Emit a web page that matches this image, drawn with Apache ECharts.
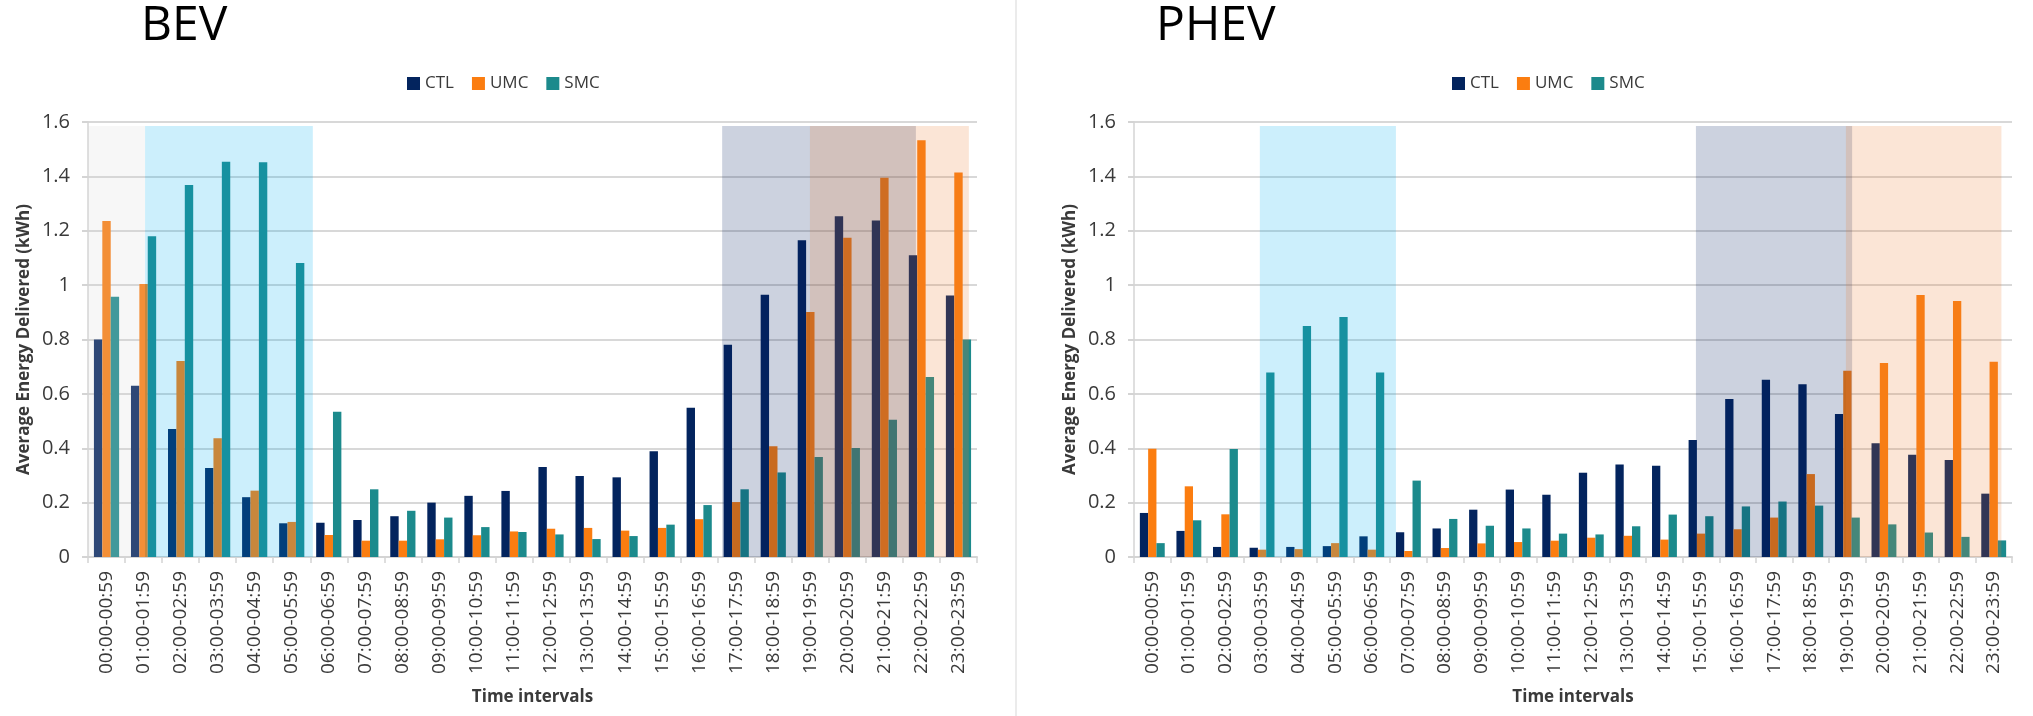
<!DOCTYPE html>
<html>
<head>
<meta charset="utf-8">
<script src="https://cdn.jsdelivr.net/npm/echarts@6/dist/echarts.min.js"></script>
<style>
  html, body { margin: 0; padding: 0; background: #fff; }
  #chart { width: 2033px; height: 716px; }
</style>
</head>
<body>
<div id="chart"></div>
<script>
const categories = ['00:00-00:59','01:00-01:59','02:00-02:59','03:00-03:59','04:00-04:59','05:00-05:59',
  '06:00-06:59','07:00-07:59','08:00-08:59','09:00-09:59','10:00-10:59','11:00-11:59',
  '12:00-12:59','13:00-13:59','14:00-14:59','15:00-15:59','16:00-16:59','17:00-17:59',
  '18:00-18:59','19:00-19:59','20:00-20:59','21:00-21:59','22:00-22:59','23:00-23:59'];
const seriesNames = ['CTL', 'UMC', 'SMC'];
const yTickLabels = ['0', '0.2', '0.4', '0.6', '0.8', '1', '1.2', '1.4', '1.6'];

// BEV values (kWh)
const bevCTL = [0.80, 0.63, 0.471, 0.327, 0.22, 0.124, 0.126, 0.136, 0.15, 0.20, 0.225, 0.243,
  0.331, 0.298, 0.293, 0.389, 0.549, 0.781, 0.965, 1.165, 1.253, 1.238, 1.11, 0.962];
const bevUMC = [1.236, 1.004, 0.721, 0.437, 0.244, 0.129, 0.081, 0.06, 0.06, 0.065, 0.08, 0.094,
  0.104, 0.107, 0.097, 0.107, 0.139, 0.202, 0.407, 0.901, 1.174, 1.395, 1.533, 1.414];
const bevSMC = [0.957, 1.18, 1.368, 1.454, 1.452, 1.081, 0.534, 0.249, 0.17, 0.145, 0.11, 0.092,
  0.083, 0.066, 0.077, 0.119, 0.191, 0.249, 0.311, 0.368, 0.401, 0.505, 0.662, 0.80];

// PHEV values (kWh)
const phevCTL = [0.162, 0.096, 0.037, 0.034, 0.037, 0.04, 0.076, 0.091, 0.105, 0.174, 0.248, 0.229,
  0.31, 0.34, 0.336, 0.43, 0.581, 0.652, 0.635, 0.526, 0.418, 0.376, 0.357, 0.233];
const phevUMC = [0.398, 0.26, 0.157, 0.027, 0.029, 0.051, 0.027, 0.022, 0.033, 0.05, 0.055, 0.06,
  0.071, 0.078, 0.064, 0.086, 0.102, 0.145, 0.305, 0.685, 0.714, 0.964, 0.942, 0.718];
const phevSMC = [0.051, 0.135, 0.397, 0.679, 0.85, 0.883, 0.679, 0.281, 0.14, 0.115, 0.105, 0.086,
  0.083, 0.113, 0.156, 0.15, 0.186, 0.204, 0.189, 0.145, 0.12, 0.09, 0.074, 0.061];

// Shaded periods, in category units along the hour axis: [start, end, top, colour index]
const bevShades = [[0, 1.54, 1.585, 0], [1.54, 6.07, 1.585, 1], [17.12, 22.35, 1.585, 2], [19.49, 23.78, 1.585, 3]];
const phevShades = [[3.44, 7.16, 1.585, 1], [15.36, 19.63, 1.585, 2], [19.46, 23.71, 1.585, 3]];
const shadeColors = ['rgba(215,215,215,0.2)', 'rgba(0,176,240,0.2)', 'rgba(0,32,96,0.2)', 'rgba(237,125,49,0.2)'];

const barColors = ['#03245e', '#fb7d10', '#1c8a8c'];
const FONT = 'Open Sans';
const TXT = '#3a3a3a';

const chart = echarts.init(document.getElementById('chart'));

function catAxis(gridIndex) {
  return {
    type: 'category', gridIndex: gridIndex, data: categories,
    name: 'Time intervals', nameLocation: 'middle', nameGap: 132,
    nameTextStyle: { fontFamily: FONT, fontSize: 17, fontWeight: 'bold', color: TXT },
    axisLine: { show: true, lineStyle: { color: '#d4d4d4', width: 2 } },
    axisTick: { show: true, length: 6, lineStyle: { color: '#d4d4d4', width: 1.5 } },
    axisLabel: { interval: 0, rotate: 90, margin: 14, fontFamily: FONT, fontSize: 19, color: TXT },
    splitLine: { show: false }
  };
}
function hiddenValueX(gridIndex) {
  return { type: 'value', gridIndex: gridIndex, min: 0, max: 24, show: false };
}
function valAxis(gridIndex) {
  return {
    type: 'value', gridIndex: gridIndex, min: 0, max: 1.6, interval: 0.2,
    name: 'Average Energy Delivered (kWh)', nameLocation: 'middle', nameGap: 55,
    nameTextStyle: { fontFamily: FONT, fontSize: 17, fontWeight: 'bold', color: TXT },
    axisLine: { show: true, lineStyle: { color: '#d4d4d4', width: 1.5 } },
    axisTick: { show: true, length: 6, lineStyle: { color: '#d4d4d4', width: 2 } },
    axisLabel: { margin: 18, fontFamily: FONT, fontSize: 20, color: TXT,
      formatter: function (v, i) { return yTickLabels[i]; } },
    splitLine: { show: true, lineStyle: { color: '#d8d8d8', width: 2 } }
  };
}
function bars(name, data, xi, yi, color) {
  return {
    type: 'bar', name: name, data: data, xAxisIndex: xi, yAxisIndex: yi,
    barGap: '0%', barCategoryGap: '32%', itemStyle: { color: color }, z: 2
  };
}
function shades(data, xi, yi) {
  return {
    type: 'custom', xAxisIndex: xi, yAxisIndex: yi, data: data, silent: true, z: 5,
    encode: { x: [0, 1], y: 2 },
    renderItem: function (params, api) {
      const p0 = api.coord([api.value(0), 0]);
      const p1 = api.coord([api.value(1), api.value(2)]);
      return {
        type: 'rect',
        shape: { x: p0[0], y: p1[1], width: p1[0] - p0[0], height: p0[1] - p1[1] },
        style: { fill: shadeColors[api.value(3)] }
      };
    }
  };
}
function legend(left) {
  return {
    left: left, top: 75, data: seriesNames, icon: 'rect', itemWidth: 13, itemHeight: 13,
    itemGap: 18, padding: 0, textStyle: { fontFamily: FONT, fontSize: 17, color: TXT }
  };
}

chart.setOption({
  animation: false,
  backgroundColor: '#ffffff',
  title: [
    { text: 'BEV', left: 141, top: 2, padding: 0, textStyle: { fontFamily: FONT, fontSize: 48, fontWeight: 'normal', color: '#000' } },
    { text: 'PHEV', left: 1156, top: 2, padding: 0, textStyle: { fontFamily: FONT, fontSize: 48, fontWeight: 'normal', color: '#000' } }
  ],
  legend: [legend(407), legend(1452)],
  grid: [
    { left: 88, top: 122, width: 889, height: 435 },
    { left: 1134, top: 122, width: 878, height: 435 }
  ],
  xAxis: [catAxis(0), catAxis(1), hiddenValueX(0), hiddenValueX(1)],
  yAxis: [valAxis(0), valAxis(1)],
  graphic: [
    { type: 'line', shape: { x1: 1016, y1: 0, x2: 1016, y2: 716 }, style: { stroke: '#e4e4e4', lineWidth: 1.5 } }
  ],
  series: [
    bars('CTL', bevCTL, 0, 0, barColors[0]),
    bars('UMC', bevUMC, 0, 0, barColors[1]),
    bars('SMC', bevSMC, 0, 0, barColors[2]),
    bars('CTL', phevCTL, 1, 1, barColors[0]),
    bars('UMC', phevUMC, 1, 1, barColors[1]),
    bars('SMC', phevSMC, 1, 1, barColors[2]),
    shades(bevShades, 2, 0),
    shades(phevShades, 3, 1)
  ]
});
</script>
</body>
</html>
